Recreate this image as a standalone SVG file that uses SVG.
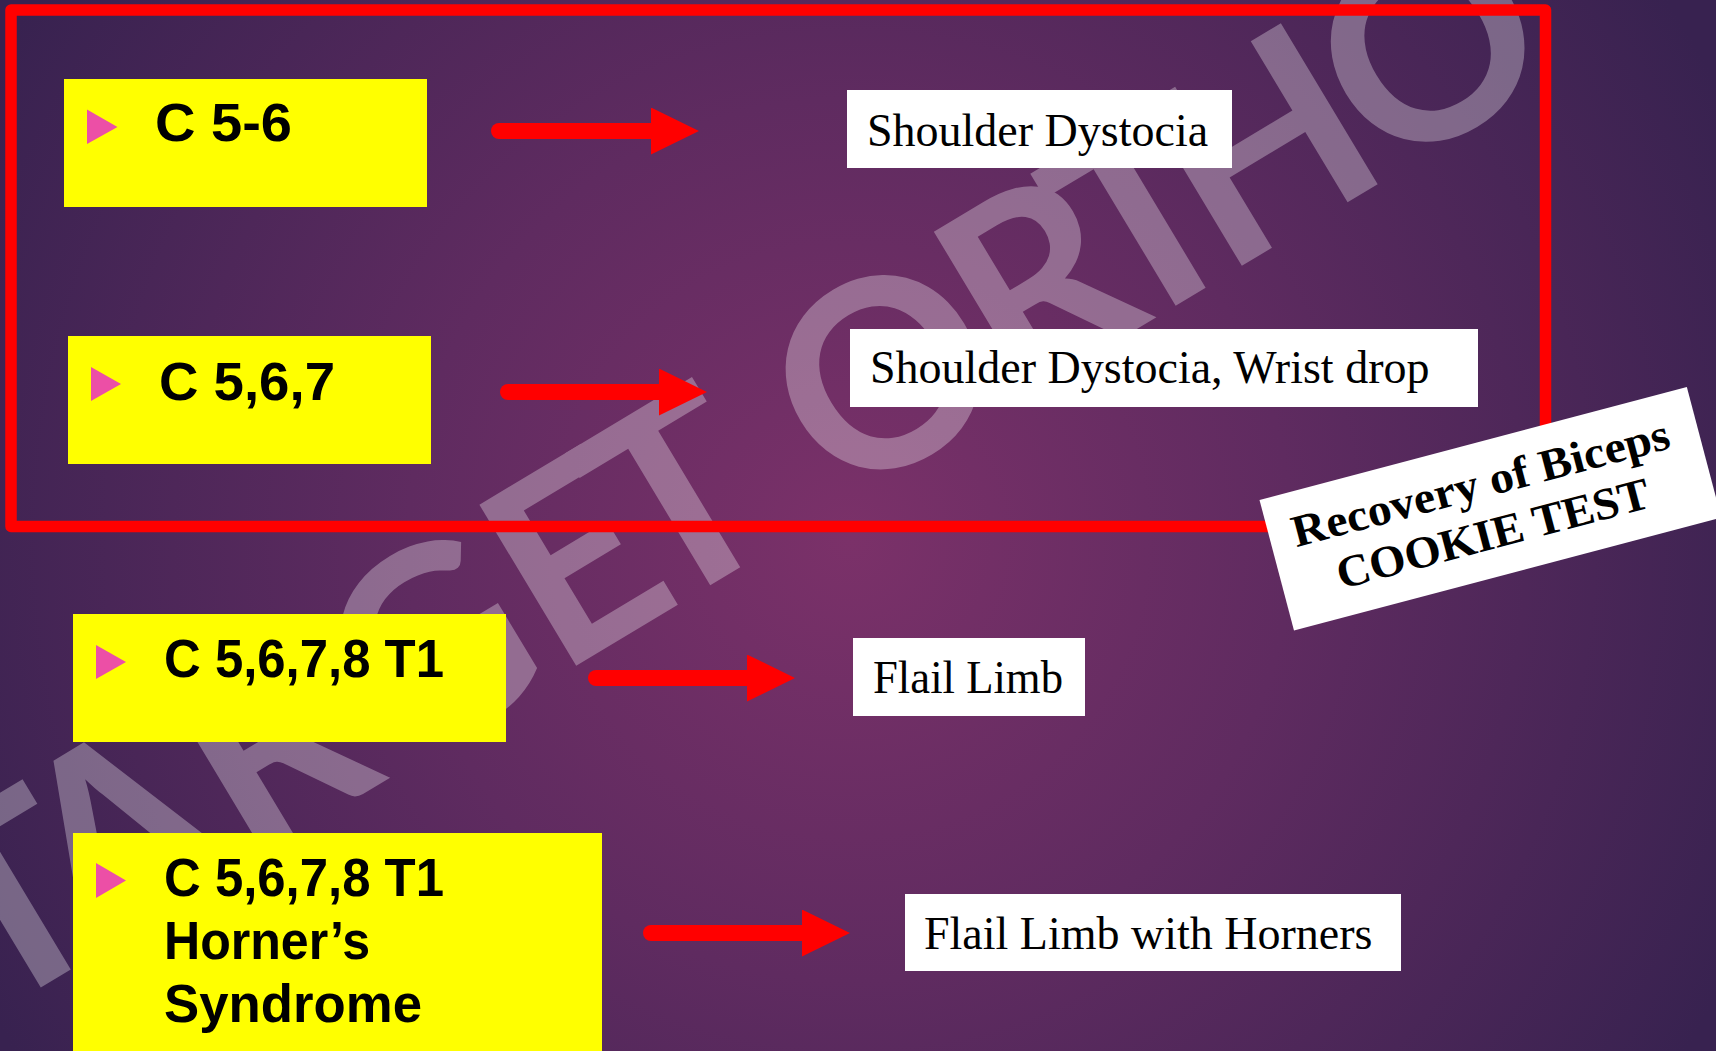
<svg xmlns="http://www.w3.org/2000/svg" width="1716" height="1051" viewBox="0 0 1716 1051">
  <defs>
    <radialGradient id="bg" gradientUnits="userSpaceOnUse" cx="850" cy="540" r="980">
      <stop offset="0" stop-color="#7b3169"/>
      <stop offset="0.45" stop-color="#5f2b60"/>
      <stop offset="1" stop-color="#382250"/>
    </radialGradient>
    <marker id="head" markerUnits="userSpaceOnUse" markerWidth="48" markerHeight="48" refX="0" refY="23.5" orient="auto" viewBox="0 0 48 48">
      <path d="M0,0 L48,23.5 L0,47 Z" fill="#FF0000"/>
    </marker>
    <style>
      .yb { fill: #FFFF00; }
      .wb { fill: #FFFFFF; }
      .tri { fill: #EC4FA6; }
      .lab { font-family: "Liberation Sans", Arial, sans-serif; font-weight: bold; font-size: 54px; fill: #000000; }
      .res { font-family: "Liberation Serif", "Times New Roman", serif; font-size: 46px; fill: #000000; }
      .ck { font-family: "Liberation Serif", "Times New Roman", serif; font-weight: bold; font-size: 45px; fill: #000000; text-anchor: middle; }
      .arr { stroke: #FF0000; stroke-width: 16; stroke-linecap: round; fill: none; marker-end: url(#head); }
      .wm { font-family: Lato, "DejaVu Sans", sans-serif; font-weight: bold; font-size: 260px; fill: #FFFFFF; text-anchor: middle; }
    </style>
  </defs>

  <rect x="0" y="0" width="1716" height="1051" fill="url(#bg)"/>

  <g id="watermark" opacity="0.3" transform="translate(883,373) rotate(-31)">
    <text class="wm" x="-1021" y="93">T</text>
    <text class="wm" x="-893" y="93">A</text>
    <text class="wm" x="-715" y="93">R</text>
    <text class="wm" x="-530" y="93">G</text>
    <text class="wm" x="-360" y="93">E</text>
    <text class="wm" x="-240" y="93">T</text>
    <text class="wm" x="0" y="93">O</text>
    <text class="wm" x="179" y="93">R</text>
    <text class="wm" x="303" y="93">T</text>
    <text class="wm" x="442" y="93">H</text>
    <text class="wm" x="636" y="93">O</text>
  </g>

  <g id="frame">
    <rect x="11" y="10" width="1534.5" height="516.5" fill="none" stroke="#FF0000" stroke-width="11.5" stroke-linejoin="round"/>
  </g>

  <g id="connectors">
    <line class="arr" x1="499" y1="131" x2="651" y2="131"/>
    <line class="arr" x1="508" y1="392" x2="659" y2="392"/>
    <line class="arr" x1="596" y1="678" x2="747" y2="678"/>
    <line class="arr" x1="651" y1="933" x2="802" y2="933"/>
  </g>

  <g id="n-c56">
    <rect class="yb" x="64" y="79" width="363" height="128"/>
    <polygon class="tri" points="87,109.5 117.5,127 87,144"/>
    <text class="lab" x="155" y="141" textLength="137" lengthAdjust="spacingAndGlyphs">C 5-6</text>
  </g>

  <g id="n-c567">
    <rect class="yb" x="68" y="336" width="363" height="128"/>
    <polygon class="tri" points="91,367 121,384 91,401"/>
    <text class="lab" x="159" y="399.5" textLength="176" lengthAdjust="spacingAndGlyphs">C 5,6,7</text>
  </g>

  <g id="n-c5678t1">
    <rect class="yb" x="73" y="614" width="433" height="128"/>
    <polygon class="tri" points="96,645 126,662 96,679"/>
    <text class="lab" x="164" y="676.5" textLength="280" lengthAdjust="spacingAndGlyphs">C 5,6,7,8 T1</text>
  </g>

  <g id="n-c5678t1-horner">
    <rect class="yb" x="73" y="833" width="529" height="230"/>
    <polygon class="tri" points="96,863 126,880.5 96,898"/>
    <text class="lab" x="164" y="896" textLength="280" lengthAdjust="spacingAndGlyphs">C 5,6,7,8 T1</text>
    <text class="lab" x="164" y="959" textLength="206" lengthAdjust="spacingAndGlyphs">Horner’s</text>
    <text class="lab" x="164" y="1022" textLength="258" lengthAdjust="spacingAndGlyphs">Syndrome</text>
  </g>

  <g id="n-shoulder">
    <rect class="wb" x="847" y="90" width="385" height="78"/>
    <text class="res" x="867" y="146">Shoulder Dystocia</text>
  </g>

  <g id="n-shoulder-wrist">
    <rect class="wb" x="850" y="329" width="628" height="78"/>
    <text class="res" x="870" y="383">Shoulder Dystocia, Wrist drop</text>
  </g>

  <g id="n-flail">
    <rect class="wb" x="853" y="638" width="232" height="78"/>
    <text class="res" x="873" y="693" textLength="190" lengthAdjust="spacingAndGlyphs">Flail Limb</text>
  </g>

  <g id="n-flail-horners">
    <rect class="wb" x="905" y="894" width="496" height="77"/>
    <text class="res" x="924" y="949">Flail Limb with Horners</text>
  </g>

  <g id="n-cookie" transform="translate(1259.5,500) rotate(-14.8)">
    <rect class="wb" x="0" y="0" width="442" height="135"/>
    <text class="ck" x="218" y="55" textLength="389" lengthAdjust="spacingAndGlyphs">Recovery of Biceps</text>
    <text class="ck" x="217" y="107" textLength="322" lengthAdjust="spacingAndGlyphs">COOKIE TEST</text>
  </g>
</svg>
